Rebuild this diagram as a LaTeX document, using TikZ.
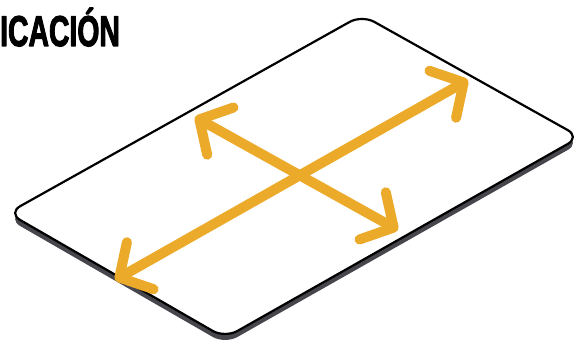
\documentclass[tikz,border=0pt]{standalone}
\usepackage{fontspec}
\setmainfont{Liberation Sans}
\newfontfamily\titlefont[FakeBold=3]{Liberation Sans}
\usetikzlibrary{arrows.meta}
\definecolor{cardorange}{RGB}{236,170,42}
\definecolor{cardshadow}{RGB}{70,70,76}
\begin{document}
\begin{tikzpicture}[x=1pt, y=-1pt, line join=round, line cap=round,
	barb/.tip={Straight Barb[length=24pt,width=54pt,round]},
	twoway/.style={cardorange, line width=10pt, barb-barb}]
		\useasboundingbox (0,0) rectangle (583,352);
		\path 	(8,213) coordinate (L)
		(362,15) coordinate (T)
		(580,137) coordinate (R)
		(225,338) coordinate (B)
		(115,280) coordinate (SW)
		(468,80) coordinate (NE)
		(195,117) coordinate (NW)
		(398,230) coordinate (SE);
		% card thickness
		\fill[cardshadow, rounded corners=14pt] ([yshift=-6pt]L) -- ([yshift=-6pt]T) -- ([yshift=-6pt]R) -- ([yshift=-6pt]B) -- cycle;
		\draw[fill=white, line width=2.2pt, rounded corners=14pt] (L) -- (T) -- (R) -- (B) -- cycle;
		\draw[twoway] (SW) -- (NE);
		\draw[twoway] (NW) -- (SE);
		\node[anchor=base west, inner sep=0pt, xscale=0.66,
			font=\titlefont\bfseries\fontsize{43}{43}\selectfont] (title) at (0,46) {ICACIÓN};
	\end{tikzpicture}
\end{document}
